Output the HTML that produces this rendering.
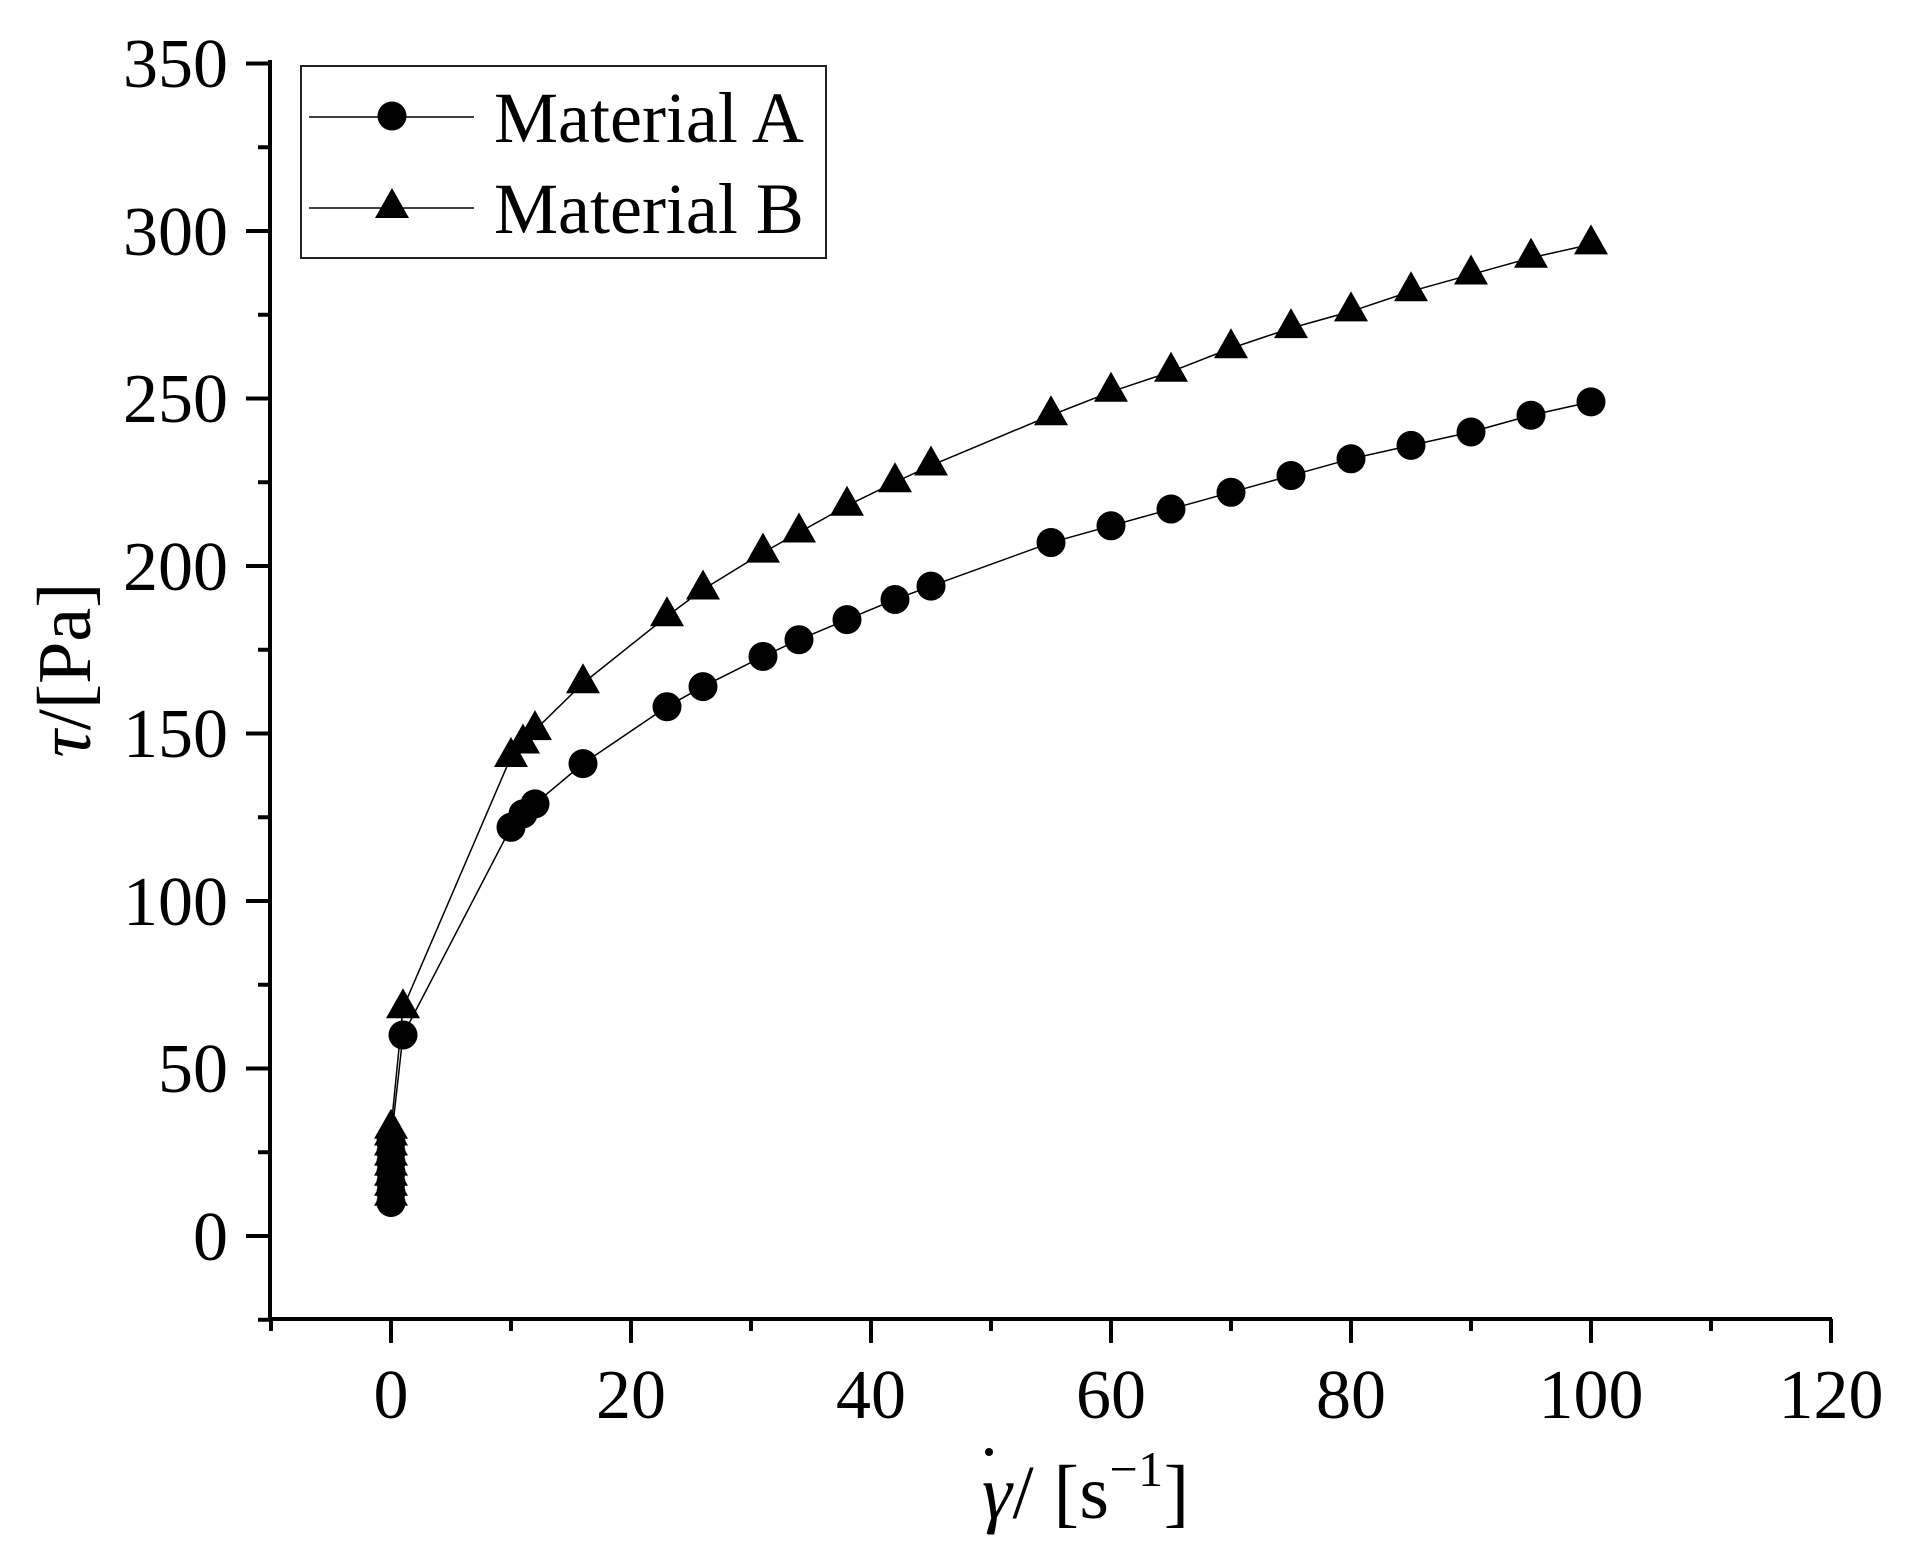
<!DOCTYPE html>
<html><head><meta charset="utf-8"><style>
html,body{margin:0;padding:0;background:#fff;}
svg{display:block;}
text{font-family:"Liberation Serif","DejaVu Serif",serif;fill:#000;}
</style></head><body>
<svg id="s" width="1929" height="1554" viewBox="0 0 1929 1554" xmlns="http://www.w3.org/2000/svg">
<rect width="1929" height="1554" fill="#fff"/>
<g id="axes" stroke="#000" stroke-width="4" fill="none">
<line x1="270" y1="60" x2="270" y2="1321"/>
<line x1="268" y1="1319" x2="1832" y2="1319"/>
</g>
<g id="ticks" stroke="#000" stroke-width="4"></g>
<g font-size="70" text-anchor="end">
<text x="228" y="1260">0</text>
<text x="228" y="1092">50</text>
<text x="228" y="925">100</text>
<text x="228" y="757">150</text>
<text x="228" y="590">200</text>
<text x="228" y="422">250</text>
<text x="228" y="255">300</text>
<text x="228" y="87">350</text>
</g>
<g font-size="70" text-anchor="middle">
<text x="391" y="1418">0</text>
<text x="631" y="1418">20</text>
<text x="871" y="1418">40</text>
<text x="1111" y="1418">60</text>
<text x="1351" y="1418">80</text>
<text x="1591" y="1418">100</text>
<text x="1831" y="1418">120</text>
</g>
<text x="982" y="1518" font-size="76" textLength="207" lengthAdjust="spacing"><tspan font-style="italic">γ</tspan>/ [s<tspan font-size="50" dy="-32">−1</tspan><tspan dy="32">]</tspan></text>
<circle cx="989" cy="1452" r="4" fill="#000"/>
<text transform="translate(90,670) rotate(-90)" font-size="76" text-anchor="middle"><tspan font-style="italic">τ</tspan>/[Pa]</text>
<g id="data"></g>
<rect x="301" y="66" width="525" height="192" fill="#fff" stroke="#222" stroke-width="2"/>
<line x1="309" y1="117" x2="474" y2="117" stroke="#000" stroke-width="1.5"/>
<circle cx="392" cy="116" r="14.5" fill="#000"/>
<line x1="309" y1="208" x2="474" y2="208" stroke="#000" stroke-width="1.5"/>
<polygon points="392,188 375,218 409,218" fill="#000"/>
<text x="494" y="142" font-size="72">Material A</text>
<text x="494" y="233" font-size="72">Material B</text>
</svg>
<script>
var NS="http://www.w3.org/2000/svg";
function X(v){return 391+v*12;}
function Y(v){return 1236-v*3.35;}
var t=document.getElementById('ticks');
function ln(a,b,c,d){var l=document.createElementNS(NS,'line');l.setAttribute('x1',a);l.setAttribute('y1',b);l.setAttribute('x2',c);l.setAttribute('y2',d);t.appendChild(l);}
for(var v=-10;v<=120;v+=10){var major=(v%20==0);ln(X(v),1319,X(v),major?1343:1331);}
for(var v=-25;v<=350;v+=25){var major=(v%50==0);ln(270,Y(v),major?246:258,Y(v));}
var A=[[0,10],[0,13],[0,16],[0,19],[0,22],[0,25],[0,28],[1,60],[10,122],[11,126],[12,129],[16,141],[23,158],[26,164],[31,173],[34,178],[38,184],[42,190],[45,194],[55,207],[60,212],[65,217],[70,222],[75,227],[80,232],[85,236],[90,240],[95,245],[100,249]];
var B=[[0,12],[0,15],[0,18],[0,21],[0,24],[0,27],[0,30],[0,32],[1,68],[10,143],[11,147],[12,151],[16,165],[23,185],[26,193],[31,204],[34,210],[38,218],[42,225],[45,230],[55,245],[60,252],[65,258],[70,265],[75,271],[80,276],[85,282],[90,287],[95,292],[100,296]];
var g=document.getElementById('data');
function poly(d){var p=document.createElementNS(NS,'polyline');p.setAttribute('points',d.map(function(q){return X(q[0])+','+Y(q[1]);}).join(' '));p.setAttribute('fill','none');p.setAttribute('stroke','#000');p.setAttribute('stroke-width','1.5');g.appendChild(p);}
poly(A);poly(B);
A.forEach(function(q){var c=document.createElementNS(NS,'circle');c.setAttribute('cx',X(q[0]));c.setAttribute('cy',Y(q[1]));c.setAttribute('r',14.5);c.setAttribute('fill','#000');g.appendChild(c);});
B.forEach(function(q){var x=X(q[0]),y=Y(q[1]);var p=document.createElementNS(NS,'polygon');p.setAttribute('points',x+','+(y-20)+' '+(x-17)+','+(y+10)+' '+(x+17)+','+(y+10));p.setAttribute('fill','#000');g.appendChild(p);});
</script>
</body></html>
